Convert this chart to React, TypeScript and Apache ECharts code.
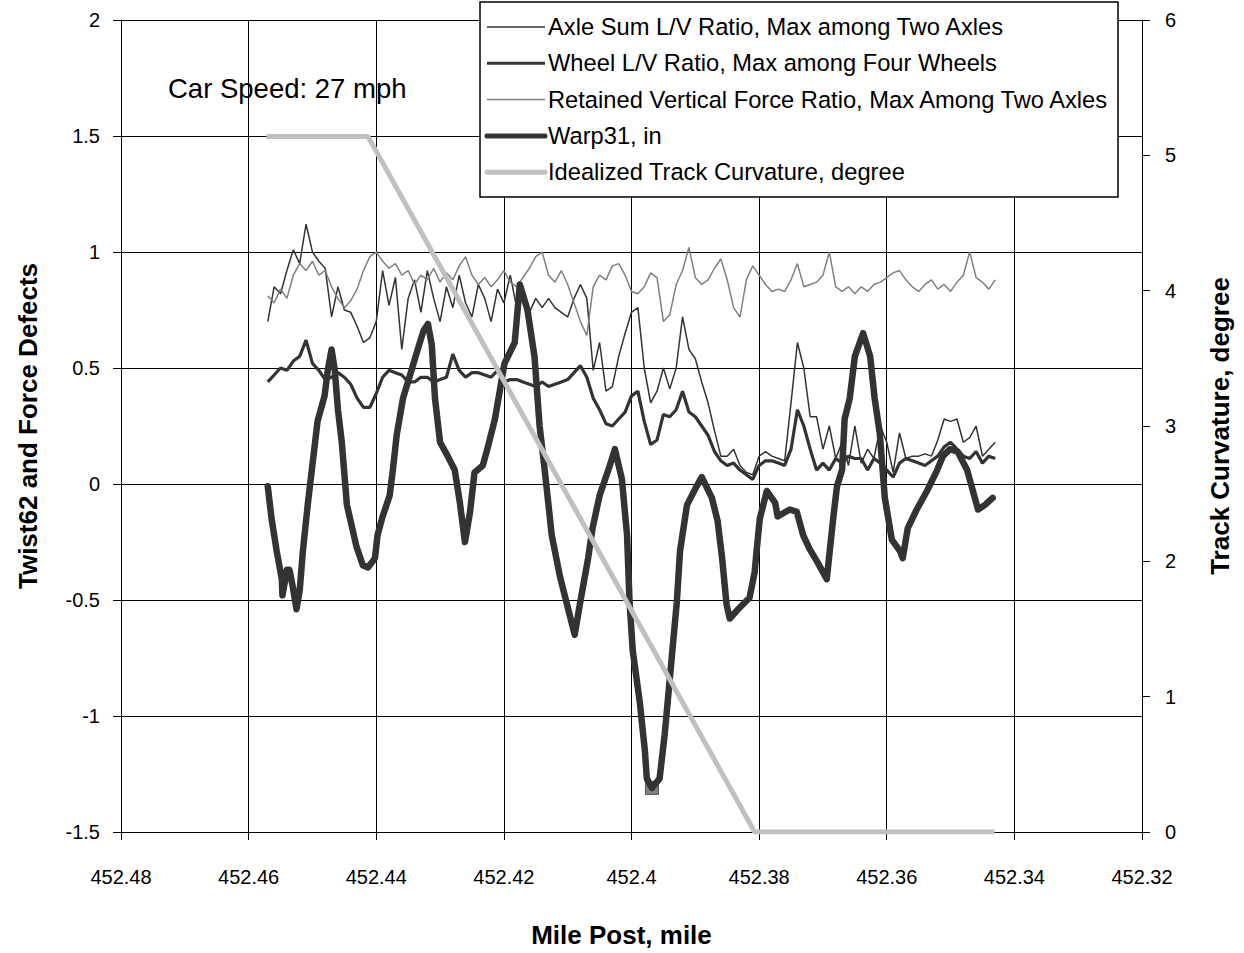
import React, { useEffect, useRef } from "react";
import * as echarts from "echarts";

const FONT = '"Liberation Sans", Arial, Helvetica, sans-serif';

// Mile posts at which the three force traces were read (one reading every 0.001 mile)
const milePosts = [
  452.457, 452.456, 452.455, 452.454, 452.453, 452.452, 452.451, 452.45, 452.449, 452.448,
  452.447, 452.446, 452.445, 452.444, 452.443, 452.442, 452.441, 452.44, 452.439, 452.438,
  452.437, 452.436, 452.435, 452.434, 452.433, 452.432, 452.431, 452.43, 452.429, 452.428,
  452.427, 452.426, 452.425, 452.424, 452.423, 452.422, 452.421, 452.42, 452.419, 452.418,
  452.417, 452.416, 452.415, 452.414, 452.413, 452.412, 452.411, 452.41, 452.409, 452.408,
  452.407, 452.406, 452.405, 452.404, 452.403, 452.402, 452.401, 452.4, 452.399, 452.398,
  452.397, 452.396, 452.395, 452.394, 452.393, 452.392, 452.391, 452.39, 452.389, 452.388,
  452.387, 452.386, 452.385, 452.384, 452.383, 452.382, 452.381, 452.38, 452.379, 452.378,
  452.377, 452.376, 452.375, 452.374, 452.373, 452.372, 452.371, 452.37, 452.369, 452.368,
  452.367, 452.366, 452.365, 452.364, 452.363, 452.362, 452.361, 452.36, 452.359, 452.358,
  452.357, 452.356, 452.355, 452.354, 452.353, 452.352, 452.351, 452.35, 452.349, 452.348,
  452.347, 452.346, 452.345, 452.344, 452.343,
];

const axleSumLV = [
  0.70, 0.85, 0.82, 0.92, 1.01, 0.95, 1.12, 1.00, 0.96, 0.93,
  0.72, 0.85, 0.75, 0.74, 0.68, 0.61, 0.63, 0.70, 0.92, 0.77,
  0.89, 0.58, 0.80, 0.88, 0.74, 0.92, 0.80, 0.70, 0.85, 0.76,
  0.90, 0.78, 0.72, 0.86, 0.80, 0.70, 0.84, 0.78, 0.90, 0.76,
  0.82, 0.74, 0.80, 0.76, 0.80, 0.76, 0.74, 0.72, 0.80, 0.86,
  0.80, 0.49, 0.61, 0.40, 0.42, 0.55, 0.65, 0.74, 0.76, 0.50,
  0.35, 0.40, 0.50, 0.41, 0.50, 0.72, 0.58, 0.54, 0.44, 0.35,
  0.23, 0.12, 0.12, 0.15, 0.08, 0.05, 0.04, 0.12, 0.14, 0.12,
  0.11, 0.10, 0.35, 0.61, 0.50, 0.29, 0.29, 0.15, 0.25, 0.11,
  0.18, 0.08, 0.25, 0.09, 0.15, 0.11, 0.25, 0.18, 0.05, 0.22,
  0.11, 0.12, 0.12, 0.13, 0.12, 0.19, 0.28, 0.27, 0.28, 0.18,
  0.20, 0.25, 0.12, 0.15, 0.18,
];

const wheelLV = [
  0.44, 0.47, 0.50, 0.49, 0.53, 0.55, 0.62, 0.52, 0.49, 0.45,
  0.46, 0.48, 0.46, 0.43, 0.37, 0.33, 0.33, 0.39, 0.46, 0.49,
  0.48, 0.47, 0.44, 0.44, 0.46, 0.46, 0.44, 0.45, 0.46, 0.56,
  0.49, 0.46, 0.48, 0.48, 0.47, 0.46, 0.49, 0.44, 0.45, 0.45,
  0.44, 0.43, 0.42, 0.44, 0.42, 0.43, 0.44, 0.45, 0.48, 0.51,
  0.46, 0.37, 0.32, 0.26, 0.25, 0.28, 0.31, 0.38, 0.40, 0.27,
  0.17, 0.19, 0.30, 0.29, 0.32, 0.40, 0.31, 0.29, 0.25, 0.21,
  0.14, 0.10, 0.08, 0.09, 0.06, 0.04, 0.02, 0.08, 0.10, 0.10,
  0.09, 0.08, 0.15, 0.32, 0.25, 0.15, 0.06, 0.09, 0.06, 0.11,
  0.09, 0.12, 0.11, 0.11, 0.06, 0.11, 0.09, 0.06, 0.03, 0.09,
  0.11, 0.10, 0.09, 0.08, 0.10, 0.12, 0.16, 0.18, 0.15, 0.12,
  0.11, 0.14, 0.09, 0.12, 0.11,
];

const retainedVF = [
  0.81, 0.78, 0.84, 0.80, 0.90, 0.95, 0.92, 0.96, 0.90, 0.92,
  0.85, 0.80, 0.76, 0.79, 0.84, 0.92, 0.98, 1.00, 0.96, 0.93,
  0.95, 0.90, 0.92, 0.86, 0.90, 0.88, 0.93, 0.87, 0.91, 0.88,
  0.94, 0.98, 0.90, 0.86, 0.89, 0.85, 0.88, 0.92, 0.87, 0.85,
  0.89, 0.93, 0.98, 1.00, 0.90, 0.87, 0.92, 0.86, 0.78, 0.70,
  0.64, 0.85, 0.90, 0.88, 0.94, 0.95, 0.90, 0.83, 0.82, 0.85,
  0.91, 0.89, 0.70, 0.73, 0.86, 0.92, 1.02, 0.89, 0.86, 0.88,
  0.93, 0.97, 0.88, 0.76, 0.72, 0.88, 0.94, 0.90, 0.86, 0.83,
  0.84, 0.83, 0.88, 0.95, 0.85, 0.86, 0.87, 0.90, 1.00, 0.85,
  0.83, 0.85, 0.82, 0.85, 0.83, 0.86, 0.87, 0.89, 0.91, 0.92,
  0.88, 0.85, 0.83, 0.86, 0.88, 0.84, 0.86, 0.83, 0.87, 0.90,
  1.00, 0.89, 0.87, 0.84, 0.88,
];

// Warp31 [mile post, inches]
const warp31: [number, number][] = [
  [452.457, -0.01], [452.4564, -0.15], [452.4556, -0.29], [452.4548, -0.41], [452.4547, -0.48],
  [452.454, -0.37], [452.4536, -0.37], [452.4531, -0.44], [452.4525, -0.54], [452.452, -0.46],
  [452.4515, -0.29], [452.4507, -0.08], [452.4501, 0.06], [452.4492, 0.27], [452.4481, 0.38],
  [452.4476, 0.49], [452.447, 0.58], [452.4465, 0.49], [452.446, 0.32], [452.4454, 0.18],
  [452.4446, -0.09], [452.4431, -0.27], [452.4421, -0.35], [452.4413, -0.36], [452.4402, -0.32],
  [452.4398, -0.22], [452.439, -0.14], [452.4379, -0.05], [452.4374, 0.06], [452.4368, 0.21],
  [452.4358, 0.37], [452.4347, 0.47], [452.4335, 0.58], [452.4326, 0.66], [452.4319, 0.69],
  [452.4313, 0.6], [452.4308, 0.37], [452.43, 0.18], [452.4288, 0.12], [452.4277, 0.06],
  [452.4269, -0.08], [452.4261, -0.25], [452.4253, -0.12], [452.4246, 0.05], [452.4233, 0.08],
  [452.4225, 0.16], [452.4214, 0.28], [452.4199, 0.52], [452.4183, 0.61], [452.4175, 0.86],
  [452.4163, 0.75], [452.4152, 0.55], [452.4144, 0.25], [452.4136, 0.06], [452.4125, -0.22],
  [452.4112, -0.4], [452.4101, -0.52], [452.4089, -0.65], [452.4081, -0.52], [452.4068, -0.32],
  [452.4061, -0.19], [452.405, -0.05], [452.4034, 0.08], [452.4026, 0.15], [452.4015, 0.02],
  [452.4007, -0.22], [452.4003, -0.51], [452.3998, -0.72], [452.3987, -0.94], [452.3979, -1.15],
  [452.3976, -1.27], [452.3968, -1.31], [452.3956, -1.27], [452.3948, -1.08], [452.394, -0.84],
  [452.3929, -0.51], [452.3924, -0.29], [452.3913, -0.09], [452.3898, -0.01], [452.389, 0.03],
  [452.3874, -0.06], [452.3865, -0.16], [452.3858, -0.32], [452.3851, -0.52], [452.3846, -0.58],
  [452.3833, -0.54], [452.3815, -0.49], [452.3807, -0.38], [452.3804, -0.29], [452.3799, -0.15],
  [452.3788, -0.03], [452.3775, -0.08], [452.3771, -0.14], [452.3752, -0.11], [452.3741, -0.12],
  [452.3731, -0.22], [452.3721, -0.28], [452.3708, -0.34], [452.3694, -0.41], [452.3684, -0.15],
  [452.3678, -0.01], [452.367, 0.06], [452.3666, 0.28], [452.3658, 0.37], [452.365, 0.55],
  [452.3637, 0.65], [452.3626, 0.55], [452.3619, 0.37], [452.3611, 0.22], [452.3603, -0.06],
  [452.3592, -0.24], [452.3579, -0.29], [452.3575, -0.32], [452.3567, -0.19], [452.3553, -0.11],
  [452.3537, -0.03], [452.3521, 0.06], [452.3512, 0.12], [452.3501, 0.15], [452.3489, 0.14],
  [452.3474, 0.06], [452.3465, -0.03], [452.3457, -0.11], [452.3446, -0.09], [452.3434, -0.06],
];
const warpMarkerIndex = 71;

// Idealized track curvature [mile post, degree]
const curvature: [number, number][] = [
  [452.4572, 5.14],
  [452.4413, 5.14],
  [452.3807, 0],
  [452.3431, 0],
];

const seriesNames = [
  "Axle Sum L/V Ratio, Max among Two Axles",
  "Wheel L/V Ratio, Max among Four Wheels",
  "Retained Vertical Force Ratio, Max Among Two Axles",
  "Warp31, in",
  "Idealized Track Curvature, degree",
];
const seriesColors = ["#333333", "#333333", "#808080", "#333333", "#c0c0c0"];
const seriesWidths = [1.5, 3.2, 1.5, 6.5, 5];
const legendLineWidths = [1.3, 3, 1.5, 5, 5];

const speedNote = "Car Speed: 27 mph";

export default function App() {
  const ref = useRef<HTMLDivElement>(null);

  useEffect(() => {
    if (!ref.current) return;
    const chart = echarts.init(ref.current, undefined, { renderer: "svg" });

    const pairs = (vals: number[]) => milePosts.map((m, i) => [m, vals[i]]);

    const legendRows = seriesNames.map((name, i) => {
      const y = 27 + i * 36.3;
      return [
        {
          type: "line",
          z: 101,
          shape: { x1: 487, y1: y, x2: 545, y2: y },
          style: {
            stroke: seriesColors[i],
            lineWidth: legendLineWidths[i],
            lineCap: i >= 3 ? "round" : "butt",
          },
        },
        {
          type: "text",
          z: 101,
          x: 548,
          y,
          style: {
            text: name,
            fill: "#000",
            fontSize: 23.7,
            fontFamily: FONT,
            verticalAlign: "middle",
            align: "left",
          },
        },
      ];
    });

    const titleStyle = { fontSize: 26, fontWeight: "bold", color: "#000", fontFamily: FONT };

    const option: any = {
      animation: false,
      backgroundColor: "#ffffff",
      textStyle: { fontFamily: FONT },
      grid: { left: 121, right: 102, top: 20, bottom: 119, containLabel: false },
      xAxis: {
        type: "value",
        min: 452.32,
        max: 452.48,
        interval: 0.02,
        inverse: true,
        name: "Mile Post, mile",
        nameLocation: "middle",
        nameGap: 90,
        nameTextStyle: { ...titleStyle, padding: [0, 20, 0, 0] },
        axisLine: { show: true, onZero: false, lineStyle: { color: "#000", width: 1 } },
        axisTick: { show: true, inside: false, length: 8, lineStyle: { color: "#000", width: 1 } },
        axisLabel: {
          fontSize: 20,
          color: "#000",
          margin: 35,
          fontFamily: FONT,
          formatter: (v: number) => String(Math.round(v * 100) / 100),
        },
        splitLine: { show: true, lineStyle: { color: "#000", width: 1 } },
      },
      yAxis: [
        {
          type: "value",
          position: "left",
          min: -1.5,
          max: 2,
          interval: 0.5,
          name: "Twist62 and Force Defects",
          nameLocation: "middle",
          nameRotate: 90,
          nameGap: 80,
          nameTextStyle: titleStyle,
          axisLine: { show: true, onZero: false, lineStyle: { color: "#000", width: 1 } },
          axisTick: { show: true, inside: false, length: 8, lineStyle: { color: "#000", width: 1 } },
          axisLabel: { fontSize: 20, color: "#000", margin: 21, fontFamily: FONT },
          splitLine: { show: true, lineStyle: { color: "#000", width: 1 } },
        },
        {
          type: "value",
          position: "right",
          min: 0,
          max: 6,
          interval: 1,
          name: "Track Curvature, degree",
          nameLocation: "middle",
          nameRotate: 90,
          nameGap: 65,
          nameTextStyle: titleStyle,
          axisLine: { show: true, onZero: false, lineStyle: { color: "#000", width: 1 } },
          axisTick: { show: true, inside: false, length: 8, lineStyle: { color: "#000", width: 1 } },
          axisLabel: { fontSize: 20, color: "#000", margin: 23, fontFamily: FONT },
          splitLine: { show: false },
        },
      ],
      series: [
        {
          name: seriesNames[0],
          type: "line",
          yAxisIndex: 0,
          data: pairs(axleSumLV),
          showSymbol: false,
          lineStyle: { color: seriesColors[0], width: seriesWidths[0] },
          itemStyle: { color: seriesColors[0] },
          z: 2,
        },
        {
          name: seriesNames[1],
          type: "line",
          yAxisIndex: 0,
          data: pairs(wheelLV),
          showSymbol: false,
          lineStyle: { color: seriesColors[1], width: seriesWidths[1] },
          itemStyle: { color: seriesColors[1] },
          z: 3,
        },
        {
          name: seriesNames[2],
          type: "line",
          yAxisIndex: 0,
          data: pairs(retainedVF),
          showSymbol: false,
          lineStyle: { color: seriesColors[2], width: seriesWidths[2] },
          itemStyle: { color: seriesColors[2] },
          z: 4,
        },
        {
          name: seriesNames[3],
          type: "line",
          yAxisIndex: 0,
          data: warp31,
          showSymbol: false,
          lineStyle: { color: seriesColors[3], width: seriesWidths[3], cap: "round", join: "round" },
          itemStyle: { color: seriesColors[3] },
          markPoint: {
            symbol: "rect",
            symbolSize: 13,
            label: { show: false },
            itemStyle: { color: "#808080", borderColor: "#555", borderWidth: 1 },
            data: [{ coord: warp31[warpMarkerIndex] }],
          },
          z: 5,
        },
        {
          name: seriesNames[4],
          type: "line",
          yAxisIndex: 1,
          data: curvature,
          showSymbol: false,
          lineStyle: { color: seriesColors[4], width: seriesWidths[4] },
          itemStyle: { color: seriesColors[4] },
          z: 6,
        },
      ],
      graphic: [
        {
          type: "text",
          z: 100,
          x: 168,
          y: 88,
          style: {
            text: speedNote,
            fill: "#000",
            fontSize: 27.5,
            fontFamily: FONT,
            verticalAlign: "middle",
            align: "left",
          },
        },
        {
          type: "rect",
          z: 100,
          shape: { x: 480, y: 2, width: 638, height: 195 },
          style: { fill: "#fff", stroke: "#000", lineWidth: 1.5 },
        },
        ...legendRows.flat(),
      ],
    };

    chart.setOption(option);
    return () => chart.dispose();
  }, []);

  return (
    <div
      ref={ref}
      style={{ position: "absolute", left: 0, top: 0, width: 1244, height: 953, background: "#fff" }}
    />
  );
}
